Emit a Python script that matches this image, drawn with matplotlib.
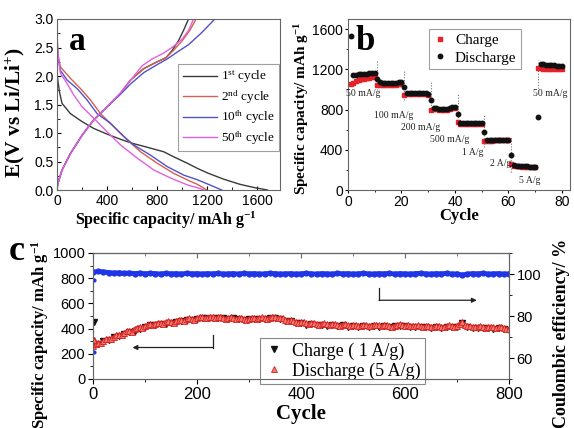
import numpy as np
import matplotlib
matplotlib.use("Agg")
import matplotlib.pyplot as plt
from matplotlib.ticker import MultipleLocator

plt.rcParams['font.family'] = ['Liberation Sans', 'DejaVu Sans']
plt.rcParams['mathtext.fontset'] = 'custom'
plt.rcParams['mathtext.rm'] = 'Liberation Serif'
plt.rcParams['mathtext.it'] = 'Liberation Serif:italic'
plt.rcParams['mathtext.bf'] = 'Liberation Serif:bold'

SERIF = 'Liberation Serif'

# ---------------- Panel a data ----------------
c1_dis_cap = [0, 8, 20, 40, 107, 200, 293, 400, 507, 600, 720, 853, 933, 1040, 1120, 1200, 1330, 1460, 1580, 1680]
c1_dis_v = [2.05, 1.90, 1.72, 1.52, 1.34, 1.20, 1.08, 0.98, 0.89, 0.82, 0.75, 0.67, 0.58, 0.47, 0.38, 0.30, 0.19, 0.10, 0.04, 0.0]
c1_chg_cap = [0, 5, 40, 107, 200, 293, 400, 507, 587, 693, 800, 870, 920, 970, 1010, 1050]
c1_chg_v = [0.0, 0.10, 0.35, 0.64, 0.96, 1.23, 1.46, 1.70, 1.93, 2.13, 2.25, 2.32, 2.45, 2.62, 2.80, 3.0]

c2_dis_cap = [0, 4, 10, 27, 107, 187, 267, 347, 453, 560, 667, 800, 933, 1067, 1120, 1195]
c2_dis_v = [2.75, 2.50, 2.35, 2.16, 1.96, 1.78, 1.58, 1.34, 1.11, 0.88, 0.67, 0.47, 0.29, 0.15, 0.10, 0.0]
c2_chg_cap = [0, 5, 40, 107, 200, 293, 400, 507, 587, 693, 800, 870, 930, 1000, 1060, 1110]
c2_chg_v = [0.0, 0.10, 0.35, 0.64, 0.96, 1.23, 1.46, 1.70, 1.93, 2.13, 2.25, 2.32, 2.45, 2.62, 2.80, 3.0]

c10_dis_cap = [0, 4, 10, 27, 80, 160, 240, 320, 427, 533, 613, 747, 880, 1013, 1120, 1230, 1315]
c10_dis_v = [2.70, 2.45, 2.30, 2.10, 1.93, 1.78, 1.58, 1.34, 1.17, 0.94, 0.79, 0.61, 0.41, 0.26, 0.18, 0.08, 0.0]
c10_chg_cap = [0, 5, 40, 107, 200, 293, 400, 507, 587, 693, 800, 880, 960, 1050, 1150, 1260]
c10_chg_v = [0.0, 0.10, 0.35, 0.64, 0.96, 1.23, 1.46, 1.68, 1.86, 2.06, 2.20, 2.30, 2.42, 2.55, 2.75, 3.0]

c50_dis_cap = [0, 4, 10, 27, 80, 133, 200, 293, 400, 507, 640, 773, 907, 1040, 1120, 1170]
c50_dis_v = [2.85, 2.55, 2.35, 2.05, 1.87, 1.67, 1.46, 1.26, 1.02, 0.79, 0.56, 0.35, 0.21, 0.09, 0.04, 0.0]
c50_chg_cap = [0, 5, 40, 107, 200, 293, 400, 507, 600, 680, 760, 850, 930, 1000, 1050, 1090]
c50_chg_v = [0.0, 0.10, 0.35, 0.64, 0.96, 1.23, 1.46, 1.70, 1.96, 2.18, 2.30, 2.40, 2.52, 2.65, 2.80, 3.0]

cycle_labels = ['1$^{\\rm st}$ cycle', '2$^{\\rm nd}$ cycle', '10$^{\\rm th}$ cycle', '50$^{\\rm th}$ cycle']
cycle_colors = ['#3a3a3a', '#d4604e', '#5252c8', '#e060e0']

# ---------------- Panel b data ----------------
rate_cycles = list(range(1, 81))
rate_charge = [1050, 1065, 1080, 1090, 1100, 1105, 1110, 1115, 1120, 1120,
               1040, 1045, 1045, 1045, 1045, 1045, 1045, 1045, 1050, 1050,
               945, 950, 950, 950, 950, 950, 950, 950, 950, 945,
               800, 805, 805, 800, 795, 795, 800, 805, 815, 820,
               680, 660, 660, 660, 658, 658, 658, 658, 660, 660,
               490, 488, 490, 492, 494, 495, 496, 497, 498, 498,
               260, 240, 236, 234, 232, 231, 230, 230, 229, 229,
               1210, 1208, 1206, 1205, 1204, 1203, 1202, 1200, 1200, 1198]
rate_discharge = [1535, 1140, 1145, 1150, 1150, 1150, 1155, 1160, 1165, 1165,
                  1100, 1070, 1065, 1065, 1065, 1060, 1060, 1065, 1070, 1070,
                  1020, 965, 960, 960, 960, 960, 960, 960, 960, 955,
                  895, 815, 815, 810, 805, 805, 810, 815, 825, 830,
                  760, 670, 668, 665, 665, 665, 665, 665, 665, 668,
                  580, 495, 495, 495, 497, 498, 500, 500, 502, 502,
                  350, 245, 240, 238, 236, 235, 234, 233, 232, 232,
                  730, 1250, 1248, 1245, 1243, 1240, 1238, 1236, 1235, 1232]
switch_cycles = [11, 21, 31, 41, 51, 61, 71]
switch_top = [1296, 1196, 1080, 953, 748, 532, 1296]
switch_bottom = [997, 897, 781, 638, 432, 183, 980]
rate_texts = ['50 mA/g', '100 mA/g', '200 mA/g', '500 mA/g', '1 A/g', '2 A/g', '5 A/g', '50 mA/g']
rate_text_x = [5.8, 17.0, 27.0, 38.0, 46.5, 57.0, 68.0, 75.7]
rate_text_y = [960, 745, 625, 505, 375, 268, 98, 960]

# ---------------- Panel c data ----------------
cyc_d = list(range(0, 801, 5))
long_discharge = [265, 278, 288, 284, 300, 314, 320, 316, 335, 348, 352, 346, 368, 378, 382, 376, 398, 408, 414, 406, 420,
                  430, 434, 428, 440, 448, 446, 440, 452, 458, 454, 448, 462, 470, 468, 460, 474, 482, 478, 470, 482,
                  490, 492, 484, 488, 496, 494, 486, 490, 494, 488, 480, 486, 490, 484, 476, 482, 486, 478, 472, 480,
                  486, 482, 476, 484, 490, 486, 480, 488, 494, 490, 482, 486, 482, 472, 462, 468, 464, 454, 446, 452,
                  450, 442, 436, 444, 446, 438, 432, 440, 442, 434, 428, 436, 438, 430, 424, 432, 434, 426, 420, 426,
                  430, 424, 418, 426, 430, 424, 420, 428, 432, 426, 420, 426, 428, 420, 416, 424, 430, 436, 428, 424,
                  430, 424, 418, 424, 426, 418, 412, 420, 424, 416, 410, 418, 422, 416, 412, 420, 426, 420, 414, 424,
                  440, 452, 428, 418, 420, 414, 410, 416, 420, 414, 408, 414, 416, 410, 404, 410, 412, 406, 400, 398]
cyc_c = list(range(0, 801, 10))
long_charge = [258, 278, 300, 312, 330, 340, 355, 370, 378, 398, 412, 426, 432, 440, 436, 448, 456, 460, 468, 470, 476,
               484, 484, 488, 482, 486, 476, 482, 478, 470, 474,
               476, 478, 480, 484, 486, 478, 462, 458, 442, 444,
               432, 438, 428, 432, 424, 430, 420, 426, 414, 420,
               414, 420, 416, 422, 412, 420, 412, 418, 420, 418,
               416, 416, 410, 414, 406, 412, 406, 414, 410, 416,
               444, 412, 408, 408, 402, 408, 400, 404, 396, 392]
first_cycles = [1]
first_charge = [450]
first_discharge = [310]
ce_cycles_start = [1, 2]
ce_start = [63, 97]
ce = [100.9, 101.2, 101.0, 100.7, 100.5, 100.6, 100.3, 100.5, 100.2, 100.4, 100.1,
      100.3, 100.2, 100.0, 100.3, 100.1, 100.2, 100.0, 100.3, 100.1, 100.2,
      100.0, 100.2, 100.1, 100.3, 100.0, 100.1, 100.2, 100.0, 100.3, 100.1,
      100.2, 100.0, 100.1, 100.3, 100.2, 100.0, 100.1, 100.2, 100.0, 100.1,
      100.3, 100.1, 100.0, 100.2, 100.1, 100.0, 100.3, 100.1, 100.2, 100.0,
      100.1, 100.3, 100.1, 100.0, 100.2, 100.1, 100.3, 100.0, 100.2, 100.1,
      100.0, 100.2, 100.3, 100.1, 100.0, 100.2, 100.1, 100.3, 100.0, 100.1,
      99.5, 100.0, 100.2, 100.1, 100.3, 100.0, 100.1, 100.2, 100.0, 100.1]
arrow_left_x = [231, 231, 76]
arrow_left_y = [350, 250, 250]
arrow_right_x = [550, 550, 738]
arrow_right_y = [720, 625, 625]

W, H = 574, 428
fig = plt.figure(figsize=(W / 100, H / 100), dpi=100)


def px_axes(l, t, r, b):
    return fig.add_axes([l / W, (H - b) / H, (r - l) / W, (b - t) / H])


# ================= Panel a =================
ax = px_axes(57, 19, 280, 190)
curves = [(c1_dis_cap, c1_dis_v, c1_chg_cap, c1_chg_v),
          (c2_dis_cap, c2_dis_v, c2_chg_cap, c2_chg_v),
          (c10_dis_cap, c10_dis_v, c10_chg_cap, c10_chg_v),
          (c50_dis_cap, c50_dis_v, c50_chg_cap, c50_chg_v)]
for (dc, dv, cc, cv), lab, col in zip(curves, cycle_labels, cycle_colors):
    ax.plot(dc, dv, color=col, lw=1.0, label=lab)
    ax.plot(cc, cv, color=col, lw=1.0)
ax.set_xlim(0, 1780)
ax.set_ylim(0, 3.0)
ax.xaxis.set_major_locator(MultipleLocator(400))
ax.xaxis.set_minor_locator(MultipleLocator(200))
ax.yaxis.set_major_locator(MultipleLocator(0.5))
ax.yaxis.set_minor_locator(MultipleLocator(0.25))
ax.yaxis.set_major_formatter(matplotlib.ticker.FormatStrFormatter('%.1f'))
ax.tick_params(which='both', direction='in', labelsize=10)
ax.tick_params(axis='x', which='both', pad=3)
ax.tick_params(axis='y', which='both', pad=2.5)
ax.tick_params(which='major', length=3)
ax.tick_params(which='minor', length=2)
for s in ax.spines.values():
    s.set_color('#666666')
leg = ax.legend(loc='upper left', bbox_to_anchor=(121 / 223, 1 - 45 / 171), prop={'family': SERIF, 'size': 9.5},
                frameon=True, fancybox=False, edgecolor='#888888', handlelength=2.6, handletextpad=0.3,
                labelspacing=0.22, borderpad=0.35, borderaxespad=0)
leg.get_frame().set_linewidth(0.8)
ax.text(0.055, 0.96, 'a', transform=ax.transAxes, fontsize=24, fontweight='bold', family=SERIF, va='top', ha='left')
fig.text(166 / W, 1 - 220 / H, 'Specific capacity/ mAh g$^{\\mathbf{-1}}$', family=SERIF, fontweight='bold', fontsize=11.5,
         ha='center', va='center')
fig.text(15 / W, 1 - 113 / H, 'E(V vs Li/Li$^{\\mathbf{+}}$)', family=SERIF, fontweight='bold', fontsize=15.5,
         ha='center', va='center', rotation=90)

# ================= Panel b =================
bx = px_axes(348, 19, 570, 190)
for x, t, b in zip(switch_cycles, switch_top, switch_bottom):
    bx.plot([x, x], [b, t], ls=(0, (1, 1.5)), color='#777777', lw=0.8)
bx.plot(rate_cycles, rate_charge, 's', ms=3.2, color='#e8202a', mec='#e8202a', ls='none', label='Charge')
bx.plot(rate_cycles, rate_discharge, 'o', ms=3.2, color='#111111', ls='none', label='Discharge')
for t, x, y in zip(rate_texts, rate_text_x, rate_text_y):
    bx.text(x, y, t, family=SERIF, fontsize=7, ha='center', va='center', color='#222222')
bx.set_xlim(0, 83)
bx.set_ylim(0, 1700)
bx.xaxis.set_major_locator(MultipleLocator(20))
bx.xaxis.set_minor_locator(MultipleLocator(10))
bx.yaxis.set_major_locator(MultipleLocator(400))
bx.yaxis.set_minor_locator(MultipleLocator(200))
bx.tick_params(which='both', direction='out', labelsize=10, pad=1)
bx.tick_params(which='major', length=2.5)
bx.tick_params(which='minor', length=1.5)
for s in bx.spines.values():
    s.set_color('#666666')
legb = bx.legend(loc='upper left', bbox_to_anchor=(81 / 222, 1 - 10 / 171), prop={'family': SERIF, 'size': 11},
                 frameon=True, fancybox=False, edgecolor='#888888', handlelength=0.8, handletextpad=0.6,
                 labelspacing=0.25, borderpad=0.3, borderaxespad=0, markerscale=1.0)
legb.get_frame().set_linewidth(0.8)
bx.text(0.035, 0.965, 'b', transform=bx.transAxes, fontsize=25, fontweight='bold', family=SERIF, va='top', ha='left')
fig.text(459 / W, 1 - 216 / H, 'Cycle', family=SERIF, fontweight='bold', fontsize=12, ha='center', va='center')
fig.text(302 / W, 1 - 108 / H, 'Specific capacity/ mAh g$^{\\mathbf{-1}}$', family=SERIF, fontweight='bold', fontsize=11,
         ha='center', va='center', rotation=90)

# ================= Panel c =================
cx = px_axes(93, 253, 509, 379)
cr = cx.twinx()
cr.plot(cyc_c, ce, '-o', color='#1f35e8', ms=4.5, lw=3.5, mew=0)
cr.plot(ce_cycles_start, ce_start, 'o', color='#1f35e8', ms=3, mew=0)
cr.set_ylim(50, 110)
cx.plot(cyc_c, long_charge, 'v', color='#111111', ms=4, ls='-', lw=1.2, label='Charge ( 1 A/g)')
cx.plot(cyc_d, long_discharge, '^', color='#e8302c', mfc='#f07a70', mec='#d82020', mew=0.6, ms=4.4, ls='-', lw=2.4,
        label='Discharge (5 A/g)')
cx.plot(first_cycles, first_charge, 'v', color='#111111', ms=4, ls='none')
cx.plot(first_cycles, first_discharge, '^', color='#e8302c', mfc='#f07a70', mec='#d82020', ms=4, ls='none')
cx.annotate('', xy=(arrow_left_x[2], arrow_left_y[2]), xytext=(arrow_left_x[1], arrow_left_y[1]),
            arrowprops=dict(arrowstyle='-|>', color='#222222', lw=0.9, mutation_scale=7, shrinkA=0, shrinkB=0))
cx.plot(arrow_left_x[:2], arrow_left_y[:2], color='#222222', lw=0.9)
cx.annotate('', xy=(arrow_right_x[2], arrow_right_y[2]), xytext=(arrow_right_x[1], arrow_right_y[1]),
            arrowprops=dict(arrowstyle='-|>', color='#222222', lw=0.9, mutation_scale=7, shrinkA=0, shrinkB=0))
cx.plot(arrow_right_x[:2], arrow_right_y[:2], color='#222222', lw=0.9)
cx.set_xlim(0, 800)
cx.set_ylim(0, 1000)
cx.xaxis.set_major_locator(MultipleLocator(200))
cx.xaxis.set_minor_locator(MultipleLocator(100))
cx.yaxis.set_major_locator(MultipleLocator(200))
cx.yaxis.set_minor_locator(MultipleLocator(100))
cr.yaxis.set_minor_locator(MultipleLocator(10))
cr.set_yticks([60, 80, 100])
for a in (cx, cr):
    a.tick_params(which='both', direction='out', labelsize=10.5, pad=2)
    a.tick_params(which='major', length=3.5)
    a.tick_params(which='minor', length=2)
    for s in a.spines.values():
        s.set_color('#666666')
cx.tick_params(axis='x', which='major', labelsize=12)
sx = cx.secondary_xaxis('top')
sx.xaxis.set_major_locator(MultipleLocator(200))
sx.xaxis.set_minor_locator(MultipleLocator(100))
sx.tick_params(which='both', direction='in', labeltop=False, color='#666666')
sx.tick_params(which='major', length=3.5)
sx.tick_params(which='minor', length=2)
sx.spines['top'].set_color('#666666')
legc = cx.legend(loc='lower left', bbox_to_anchor=(167 / 416, -0.04), prop={'family': SERIF, 'size': 13},
                 frameon=True, fancybox=False, edgecolor='#888888', handlelength=1.0, handletextpad=0.5,
                 labelspacing=0.15, borderpad=0.25, borderaxespad=0, framealpha=1)
legc.get_frame().set_linewidth(0.8)
for h in legc.legend_handles:
    h.set_linestyle('none')
fig.text(17 / W, 1 - 251 / H, 'c', family=SERIF, fontweight='bold', fontsize=26, ha='center', va='center')
fig.text(301 / W, 1 - 414 / H, 'Cycle', family=SERIF, fontweight='bold', fontsize=15, ha='center', va='center')
fig.text(40 / W, 1 - 334 / H, 'Specific capacity/ mAh g$^{\\mathbf{-1}}$', family=SERIF, fontweight='bold', fontsize=12,
         ha='center', va='center', rotation=90)
fig.text(561 / W, 1 - 333 / H, 'Coulombic efficiency/ %', family=SERIF, fontweight='bold', fontsize=13,
         ha='center', va='center', rotation=90)

fig.savefig('out.png', dpi=100)
